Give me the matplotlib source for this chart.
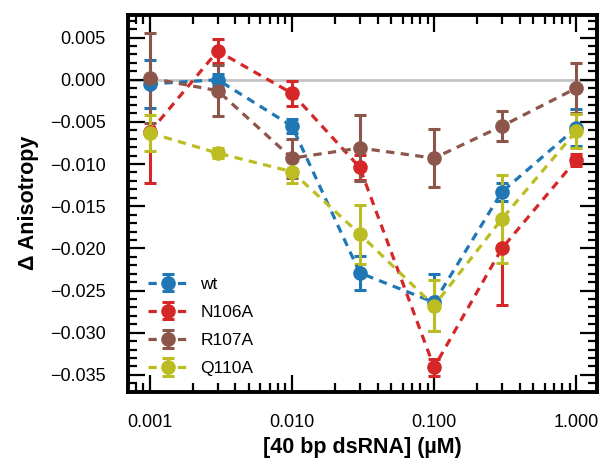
"""Delta anisotropy vs dsRNA concentration for wt and mutants."""

import matplotlib
matplotlib.use("Agg")
import matplotlib.pyplot as plt
from matplotlib.ticker import AutoMinorLocator, FixedLocator, FuncFormatter, LogLocator, NullFormatter

plt.rcParams["font.family"] = ["Liberation Sans", "DejaVu Sans"]

# concentrations (uM)
conc = [0.001, 0.003, 0.01, 0.03, 0.1, 0.3, 1.0]

labels = ["wt", "N106A", "R107A", "Q110A"]
colors = ["#1f77b4", "#d62728", "#8c564b", "#bcbd22"]

wt = [-0.0005, 0.0000, -0.0055, -0.0229, -0.0264, -0.0133, -0.0057]
wt_err = [0.0028, 0.0007, 0.0008, 0.0020, 0.0034, 0.0011, 0.0022]

n106a = [-0.0062, 0.0034, -0.0016, -0.0104, -0.0341, -0.0200, -0.0095]
n106a_err = [0.0061, 0.0014, 0.0015, 0.0015, 0.0010, 0.0067, 0.0007]

r107a = [0.0002, -0.0013, -0.0093, -0.0081, -0.0093, -0.0055, -0.0010]
r107a_err = [0.0053, 0.0030, 0.0023, 0.0039, 0.0034, 0.0018, 0.0030]

q110a = [-0.0063, -0.0087, -0.0109, -0.0183, -0.0268, -0.0165, -0.0061]
q110a_err = [0.0021, 0.0006, 0.0014, 0.0035, 0.0030, 0.0052, 0.0020]

yticks = [0.005, 0.0, -0.005, -0.01, -0.015, -0.02, -0.025, -0.03, -0.035]
xticks = [0.001, 0.01, 0.1, 1.0]

series = [(wt, wt_err), (n106a, n106a_err), (r107a, r107a_err), (q110a, q110a_err)]


def fmt3(v, pos):
    s = f"{v:.3f}"
    if s.startswith("-"):
        s = "\u2212" + s[1:] if abs(v) > 1e-12 else s[1:]
    return s


fig = plt.figure(figsize=(6.0, 4.62), dpi=100)
ax = fig.add_axes([0.213, 0.152, 0.782, 0.816])

ax.axhline(0, color="#c4c4c4", lw=2, zorder=0)

for (vals, errs), lab, col in zip(series, labels, colors):
    ax.errorbar(conc, vals, yerr=errs, fmt="o", ls=(0, (2.6, 2.0)), color=col, lw=2.3,
                ms=9.5, elinewidth=2.2, capsize=4, capthick=2.2, label=lab)

ax.set_xscale("log")
ax.set_xlim(0.0007, 1.4)
ax.set_ylim(-0.037, 0.0077)

ax.xaxis.set_major_locator(FixedLocator(xticks))
ax.xaxis.set_major_formatter(FuncFormatter(fmt3))
ax.xaxis.set_minor_locator(LogLocator(base=10, subs=range(2, 10)))
ax.xaxis.set_minor_formatter(NullFormatter())

ax.yaxis.set_major_locator(FixedLocator(yticks))
ax.yaxis.set_major_formatter(FuncFormatter(fmt3))
ax.yaxis.set_minor_locator(AutoMinorLocator(5))

ax.tick_params(which="both", direction="in", top=True, right=True, width=1.6)
ax.tick_params(which="major", length=12, labelsize=13)
ax.tick_params(axis="x", which="major", pad=16)
ax.tick_params(axis="y", which="major", pad=16)
ax.tick_params(which="minor", length=6.5)
for sp in ax.spines.values():
    sp.set_linewidth(2.8)

ax.set_xlabel("[40 bp dsRNA] (µM)", fontsize=15.5, fontweight="bold", labelpad=4)
ax.set_ylabel("Δ Anisotropy", fontsize=15.5, fontweight="bold", labelpad=8)

ax.legend(loc="lower left", frameon=False, fontsize=12.5, labelspacing=0.75,
          bbox_to_anchor=(0.01, 0.0), handlelength=2.3, handletextpad=0.7)

fig.savefig("out.png", dpi=100)
